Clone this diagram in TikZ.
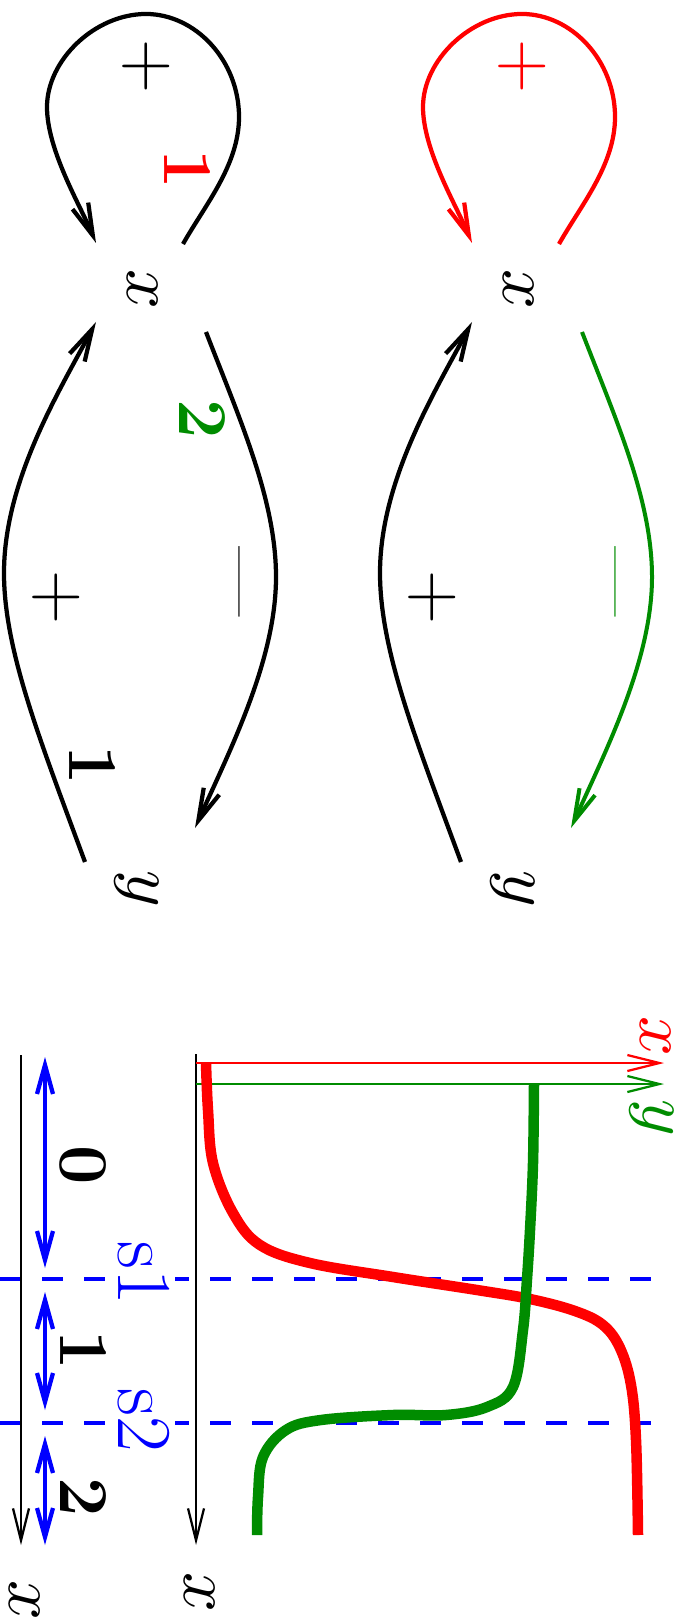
\documentclass[tikz,border=0pt]{standalone}
\usepackage{unicode-math}
\usetikzlibrary{arrows.meta}
\definecolor{dgreen}{rgb}{0,0.55,0}
\begin{document}
\begin{tikzpicture}[x=0.2pt,y=-0.2pt,
  lab/.style={rotate=-90,inner sep=0pt,font=\fontsize{14}{16}\selectfont},
  slab/.style={rotate=-90,blue,fill=white,inner sep=1pt,font=\fontsize{15.5}{17}\selectfont},
  sgn/.style={rotate=-90,inner sep=0pt,font=\fontsize{15}{17}\selectfont},
  conn/.style={line width=0.85pt,-{Straight Barb[length=6.4pt,width=3.4pt]}},
  thinax/.style={line width=0.45pt,-{Straight Barb[length=6.4pt,width=3.2pt]}},
  dbl/.style={blue,line width=0.85pt,{Straight Barb[length=5.8pt,width=3.2pt]}-{Straight Barb[length=5.8pt,width=3.2pt]}},
  dsh/.style={blue,line width=0.7pt,dash pattern=on 4.2pt off 4.2pt},
  curve/.style={line width=2.1pt}]
\useasboundingbox (0,0) rectangle (699,1621);

% ---------- top-left graph ----------
\node[lab] (xa) at (143,290) {$x$};
\node[lab] (ya) at (137,889) {$y$};
\coordinate (la0) at (183,244); \coordinate (la1) at (96,243);
\coordinate (lb0) at (85,862);  \coordinate (lb1) at (96,322);
\coordinate (lc0) at (206,332); \coordinate (lc1) at (195,828);
\draw[conn] (la0) .. controls (205,205) and (239,165) .. (239,117)
  .. controls (239,60) and (195,14) .. (146,14)
  .. controls (95,14) and (47,60) .. (47,107)
  .. controls (47,150) and (80,205) .. (la1);
\draw[conn] (lb0) .. controls (40,740) and (4,650) .. (4,573)
  .. controls (4,480) and (60,390) .. (lb1);
\draw[conn] (lc0) .. controls (240,420) and (276,500) .. (276,577)
  .. controls (276,660) and (230,750) .. (lc1);
\node[lab,red] (n1r) at (187,169) {\bfseries 1};
\node[lab,dgreen] (n2g) at (202,419) {\bfseries 2};
\node[lab] (n1k) at (92,765) {\bfseries 1};
\node[sgn] (pa1) at (146,67) {+};
\node[sgn] (pa2) at (56,598) {+};
\node[sgn] (ma1) at (230,582) {---};

% ---------- top-right graph ----------
\begin{scope}[shift={(376,0)}]
\node[lab] (xb) at (143,290) {$x$};
\node[lab] (yb) at (137,889) {$y$};
\coordinate (ra0) at (183,244); \coordinate (ra1) at (96,243);
\coordinate (rb0) at (85,862);  \coordinate (rb1) at (96,322);
\coordinate (rc0) at (206,332); \coordinate (rc1) at (195,828);
\draw[conn,red] (ra0) .. controls (205,205) and (239,165) .. (239,117)
  .. controls (239,60) and (195,14) .. (146,14)
  .. controls (95,14) and (47,60) .. (47,107)
  .. controls (47,150) and (80,205) .. (ra1);
\draw[conn] (rb0) .. controls (40,740) and (4,650) .. (4,573)
  .. controls (4,480) and (60,390) .. (rb1);
\draw[conn,dgreen,line width=0.8pt] (rc0) .. controls (240,420) and (276,500) .. (276,577)
  .. controls (276,660) and (230,750) .. (rc1);
\node[sgn,red] (pb1) at (146,67) {+};
\node[sgn] (pb2) at (56,598) {+};
\node[sgn,dgreen] (mb1) at (230,582) {---};
\end{scope}

% ---------- bottom plot ----------
\coordinate (d1a) at (0,1279); \coordinate (d1b) at (658,1279);
\coordinate (d2a) at (0,1423); \coordinate (d2b) at (658,1423);
\draw[dsh] (d1a) -- (d1b);
\draw[dsh] (d2a) -- (d2b);
\node[slab] (s1) at (144,1273) {s1};
\node[slab] (s2) at (144,1420) {s2};

\node[lab] (bx1) at (25,1600) {$x$};
\node[lab] (bx2) at (200,1592) {$x$};
\coordinate (a1s) at (21,1055); \coordinate (a1e) at (21,1545);
\coordinate (a2s) at (196,1054); \coordinate (a2e) at (196,1545);
\draw[thinax] (a1s) -- (a1e);
\draw[thinax] (a2s) -- (a2e);

\node[lab,red] (rx) at (656,1037) {$x$};
\node[lab,dgreen] (gy) at (652,1118) {$y$};
\coordinate (rxa) at (196,1063); \coordinate (rxb) at (664,1063);
\coordinate (gya) at (196,1084); \coordinate (gyb) at (664,1084);
\draw[thinax,red] (rxa) -- (rxb);
\draw[thinax,dgreen] (gya) -- (gyb);

\coordinate (b0a) at (45,1057); \coordinate (b0b) at (45,1268);
\coordinate (b1a) at (45,1292); \coordinate (b1b) at (45,1410);
\coordinate (b2a) at (45,1436); \coordinate (b2b) at (45,1545);
\draw[dbl] (b0a) -- (b0b);
\draw[dbl] (b1a) -- (b1b);
\draw[dbl] (b2a) -- (b2b);
\node[lab] (r0) at (83,1165) {\bfseries 0};
\node[lab] (r1) at (83,1350) {\bfseries 1};
\node[lab] (r2) at (83,1497) {\bfseries 2};

\draw[curve,red] plot[smooth,tension=0.6] coordinates {(206,1063) (208,1110) (213,1163) (233,1213) (260,1245) (310,1263) (393,1277) (477,1290) (530,1299) (575,1311) (603,1325) (620,1348) (631,1385) (636,1440) (638,1535)};
\draw[curve,dgreen] plot[smooth,tension=0.6] coordinates {(534,1084) (533,1163) (530,1230) (527,1279) (523,1330) (513,1387) (487,1407) (446,1415) (393,1415) (321,1420) (286,1430) (263,1457) (258,1497) (257,1535)};
\end{tikzpicture}
\end{document}
